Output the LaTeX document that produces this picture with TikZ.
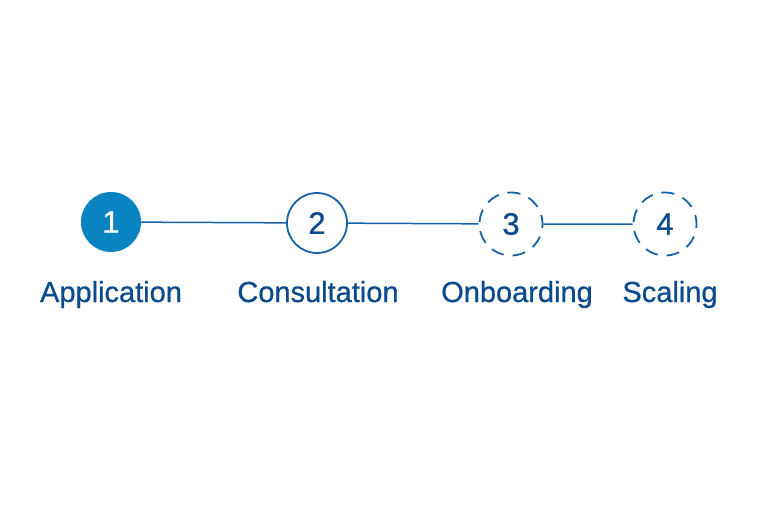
\documentclass[tikz,border=0pt]{standalone}
\usepackage{fontspec}
\setmainfont{Liberation Sans}
\newfontfamily\stepfont[BoldFont={Liberation Sans},BoldFeatures={FakeBold=0.7}]{Liberation Sans}
\usepackage{tikz}
\definecolor{stepfill}{HTML}{0A84C0}
\definecolor{stepline}{HTML}{1663A8}
\definecolor{steptext}{HTML}{0B4A8C}
\tikzset{x=1pt,y=-1pt,
  every node/.style={font=\stepfont\bfseries\fontsize{29}{32}\selectfont},
  done/.style={circle,fill=stepfill,text=white,minimum size=60pt,inner sep=0pt,font=\stepfont\bfseries\fontsize{31}{34}\selectfont},
  current/.style={circle,draw=stepline,line width=1.8pt,fill=white,text=steptext,minimum size=60pt,inner sep=0pt,font=\stepfont\bfseries\fontsize{31}{34}\selectfont},
  todo/.style={circle,draw=stepline,line width=1.8pt,dash pattern=on 13pt off 9pt,dash phase=4pt,fill=white,text=steptext,minimum size=63pt,inner sep=0pt,font=\stepfont\bfseries\fontsize{31}{34}\selectfont},
  steplabel/.style={anchor=base,text=steptext},
  link/.style={draw=stepline,line width=1.5pt}}
\begin{document}
\begin{tikzpicture}
    \useasboundingbox (0,0) rectangle (768,512);
    \node[done] (1) at (111,222) {1};
    \node[current] (2) at (317,223) {2};
    \node[todo] (3) at (511,224) {3};
    \node[todo] (4) at (665,224) {4};
    \path[link]
    (1) -- (2)
    (2) -- (3)
    (3) -- (4)
    ;
    \node[steplabel] (l1) at (111,302) {Application};
    \node[steplabel] (l2) at (318,302) {Consultation};
    \node[steplabel] (l3) at (517,302) {Onboarding};
    \node[steplabel] (l4) at (670,302) {Scaling};
\end{tikzpicture}
\end{document}
